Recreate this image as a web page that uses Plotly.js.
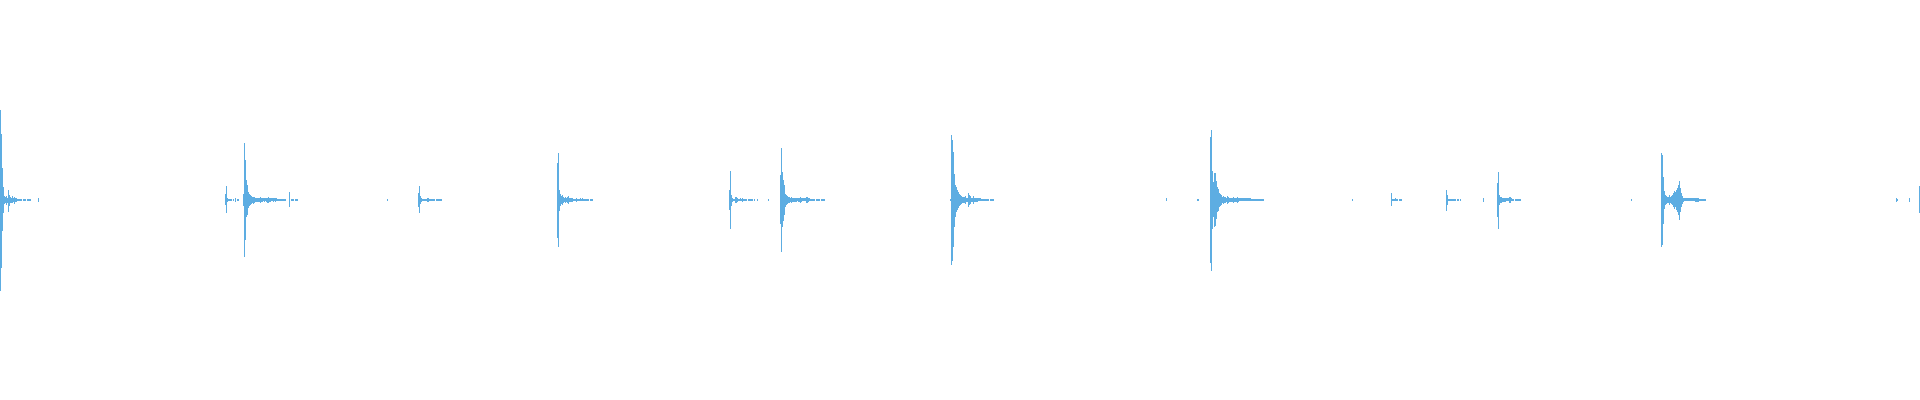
<!DOCTYPE html>
<html>
<head>
<meta charset="utf-8">
<script src="https://cdn.plot.ly/plotly-3.0.1.min.js"></script>
<style>
  html, body { margin: 0; padding: 0; background: #ffffff; }
  #chart { width: 1920px; height: 400px; }
</style>
</head>
<body>
<div id="chart"></div>
<script>
// Waveform peaks read per pixel column (percent of full scale).
// eventStart: first column of each burst; peakUp / peakDown: positive and negative peak per column.
const eventStart = [0, 38, 225, 243, 289, 387, 418, 557, 729, 757, 768, 780, 950, 1166, 1197, 1210, 1352, 1391, 1446, 1483, 1497, 1631, 1661, 1896, 1909, 1919];

const peakUp = [
  [45,33,16,6.5,2,1.5,2,1,5,2.5,1.5,1,2,1,1.5,1,1,0.5,0.5,0.5,0.5,0.5,0,0.5,0.5,0.5,0,0.5,0.5,0.5,0.5],
  [1],
  [3,7,1,0.5,0.5,0.5,0.5,0,0.5,0,1,0,0.5,0.5],
  [3,28.5,20,10,7.5,4,3,2.5,2,1.5,1.5,1.5,1,1,1,1,1,1.5,1,1,0.75,1,0.75,1,1,1.5,1,1,0.75,0.75,1,0.75,1,0.75,0.5,0.5,0.5,0.5,0.5,0.5,0.5,0.5,0.5],
  [3.75,0,0.5,0.5,0.5,0,0.5,0.5,0.5],
  [0.5],
  [3.5,6.75,2,1,0.5,0.5,0.5,0.5,0.5,1,1,0.5,0.5,0.5,0.5,0.5,0.5,0,0.5,0.5,0.5,0.5,0.5,0.5],
  [18.5,23.25,5,3,2,2.5,1.5,1,1.5,1,1.5,2,1,1,1,1,0.5,0.5,0.5,1,0.5,0.5,0.5,0.75,0.5,0.75,0.5,0.5,0.5,0.5,0.5,0.5,0,0.5,0.5,0.5],
  [4.75,14.25,2.5,1,0.5,0.5,1.5,1.5,1,0.5,0.5,0.75,0.5,1,0.5,0.5,0.5,0.5,0,0.5,0.5,0.5,0.5,0.5,0,0.5],
  [0.5],
  [0.5],
  [12.25,25.75,13.75,9.75,7.25,3,2.5,2,1.5,1.5,1,1.5,1,1,1,1,1,0.75,1,1,1.5,1,0.75,0.75,0.75,0.75,1.5,1.5,1,0.75,0.5,0.5,0.5,0.5,0.5,0,0.5,0.5,0.5,0.5,0,0.5,0.5,0.5,0.5],
  [0.5,32.25,30,23.75,13,7.5,6.5,5,4,3,2.5,2,1.5,1.5,1.5,2,1,1,3.25,2.5,2,1,1,2,1,1,1,1,0.75,0.75,0.75,0.5,0.5,0.5,0.5,0.5,0.5,0.5,0.5,0,0.5,0.5,0.5,0.5],
  [0.75],
  [0.5,0.5],
  [31.25,35,14.5,9,13.5,13.25,9.5,6.25,5.5,3.5,3,2.5,1.5,2,1.5,1.5,1,2,1.5,1,1,1,1,1.5,1,1,1,1.5,1,0.75,0.75,0.75,0.75,0.75,0.75,0.75,0.75,0.75,0.75,0.75,0.75,0.5,0.5,0.5,0.5,0.5,0.5,0.5,0.5,0.5,0.5,0.5,0.5,0.5],
  [0.5],
  [3.3,0.5,0.5,0.5,0.75,0.5,0.5,0,0.5,0.5,0.5],
  [5,2.5,0.5,0.5,0.5,0.5,0.5,0.5,0.5,0.5,0,0.5,0.5,0,0.5],
  [1],
  [8.3,14,2.5,1.5,1.5,1,1,1,1,0.75,0.75,0.75,1.5,1.5,0.75,0.5,0.5,0,0.5,0.5,0.5,0.5,0.5,0.5],
  [0.5],
  [23.5,22.3,11.5,4.3,2.5,2,1.5,1.5,2.5,1.5,2,2.5,3.5,4.5,4,5,6,7.5,9.5,6,3.5,2,1,0.75,0.75,0.75,0.75,0.75,0.75,0.75,0.75,0.75,0.75,0.75,1,1,1,1,0.5,0.5,0.5,0.5,0.5,0.5,0.5],
  [1,0.5],
  [1],
  [7]
];

const peakDown = [
  [45.5,34,15.5,6.5,2,1.5,2.5,1.5,6,3,1.5,1.5,1.5,1,2,1,1,0.5,0.5,0.5,0.5,0.5,0,0.5,0.5,0.5,0,0.5,0.5,0.5,0.5],
  [1],
  [2.5,6.5,1,0.5,0.5,0.5,0.5,0,0.5,0,1,0,0.5,0.5],
  [3,28.5,20,8.5,7.5,4,3,2.5,2,1.5,2,1.5,1,1,1,1,1,1.5,1,1,0.75,1,0.75,1,1.5,1.5,1,1,0.75,0.75,1,0.75,1,0.75,0.5,0.5,0.5,0.5,0.5,0.5,0.5,0.5,0.5],
  [3.75,0,0.5,0.5,0.5,0,0.5,0.5,0.5],
  [0.5],
  [3.5,6.5,2,1,0.5,0.5,0.5,0.5,0.5,1,1,0.5,0.5,0.5,0.5,0.5,0.5,0,0.5,0.5,0.5,0.5,0.5,0.5],
  [19,23.5,5.5,3,2,2.5,1.5,1,1.5,1,1.5,2,1,1,1,1,0.5,0.5,0.5,1,0.5,0.5,0.5,0.75,0.5,0.75,0.5,0.5,0.5,0.5,0.5,0.5,0,0.5,0.5,0.5],
  [5.25,14.5,3.25,1,0.5,0.5,1.5,1.5,1,0.5,0.5,0.75,0.5,1,0.5,0.5,0.5,0.5,0,0.5,0.5,0.5,0.5,0.5,0,0.5],
  [0.5],
  [0.5],
  [12,26,13.5,10.5,7.75,3.5,2.5,2,1.5,1.5,1,1.5,1,1,1,1,1,0.75,1,1,1.5,1,0.75,0.75,0.75,0.75,1.5,1.5,1,0.75,0.5,0.5,0.5,0.5,0.5,0,0.5,0.5,0.5,0.5,0,0.5,0.5,0.5,0.5],
  [0.5,32.75,30.5,23.5,13.5,8.5,6,5,4,3,2.5,2,1.5,1.5,1.5,2,1,1,3.5,2.5,2,1,1,2,1,1,1,1,0.75,0.75,0.75,0.5,0.5,0.5,0.5,0.5,0.5,0.5,0.5,0,0.5,0.5,0.5,0.5],
  [0.75],
  [0.5,0.5],
  [31.5,35.5,14.5,8.5,13.5,13,9.5,6.25,5.5,3.5,3,2.5,1.5,2,1.5,1.5,1,2,1.5,1,1,1,1,1.5,1,1,1,1.5,1,0.75,0.75,0.75,0.75,0.75,0.75,0.75,0.75,0.75,0.75,0.75,0.75,0.5,0.5,0.5,0.5,0.5,0.5,0.5,0.5,0.5,0.5,0.5,0.5,0.5],
  [0.5],
  [3.35,0.5,0.5,0.5,0.75,0.5,0.5,0,0.5,0.5,0.5],
  [5.85,2.85,0.5,0.5,0.5,0.5,0.5,0.5,0.5,0.5,0,0.5,0.5,0,0.5],
  [1],
  [8.65,14.5,2.85,1.5,1.5,1,1,1,1,0.75,0.75,0.75,1.5,1.5,0.75,0.5,0.5,0,0.5,0.5,0.5,0.5,0.5,0.5],
  [0.5],
  [23.7,22.5,12,4.5,2.5,2,1.5,1.5,2.5,1.5,2,2.5,3.5,4.5,3.5,5,6,7.5,10,6,3.5,2,1,0.75,0.75,0.75,0.75,0.75,0.75,0.75,0.75,0.75,0.75,0.75,1,1,1,1,0.5,0.5,0.5,0.5,0.5,0.5,0.5],
  [1,0.5],
  [1],
  [6.65]
];

const waveColor = '#5dade2';

const xs = [], bases = [], heights = [];
eventStart.forEach((start, e) => {
  const up = peakUp[e], dn = peakDown[e];
  for (let i = 0; i < up.length; i++) {
    const h = up[i] + dn[i];
    if (h <= 0) continue;
    xs.push(start + i + 0.5);
    bases.push(-dn[i]);
    heights.push(h);
  }
});

const trace = {
  type: 'bar',
  x: xs,
  y: heights,
  base: bases,
  width: 1,
  marker: { color: waveColor, line: { width: 0 } },
  hoverinfo: 'skip'
};

const layout = {
  width: 1920,
  height: 400,
  margin: { l: 0, r: 0, t: 0, b: 0, pad: 0 },
  paper_bgcolor: '#ffffff',
  plot_bgcolor: '#ffffff',
  showlegend: false,
  bargap: 0,
  xaxis: { range: [0, 1920], visible: false, fixedrange: true },
  yaxis: { range: [-100.25, 99.75], visible: false, fixedrange: true }
};

Plotly.newPlot('chart', [trace], layout, { staticPlot: true, displayModeBar: false });
</script>
</body>
</html>
